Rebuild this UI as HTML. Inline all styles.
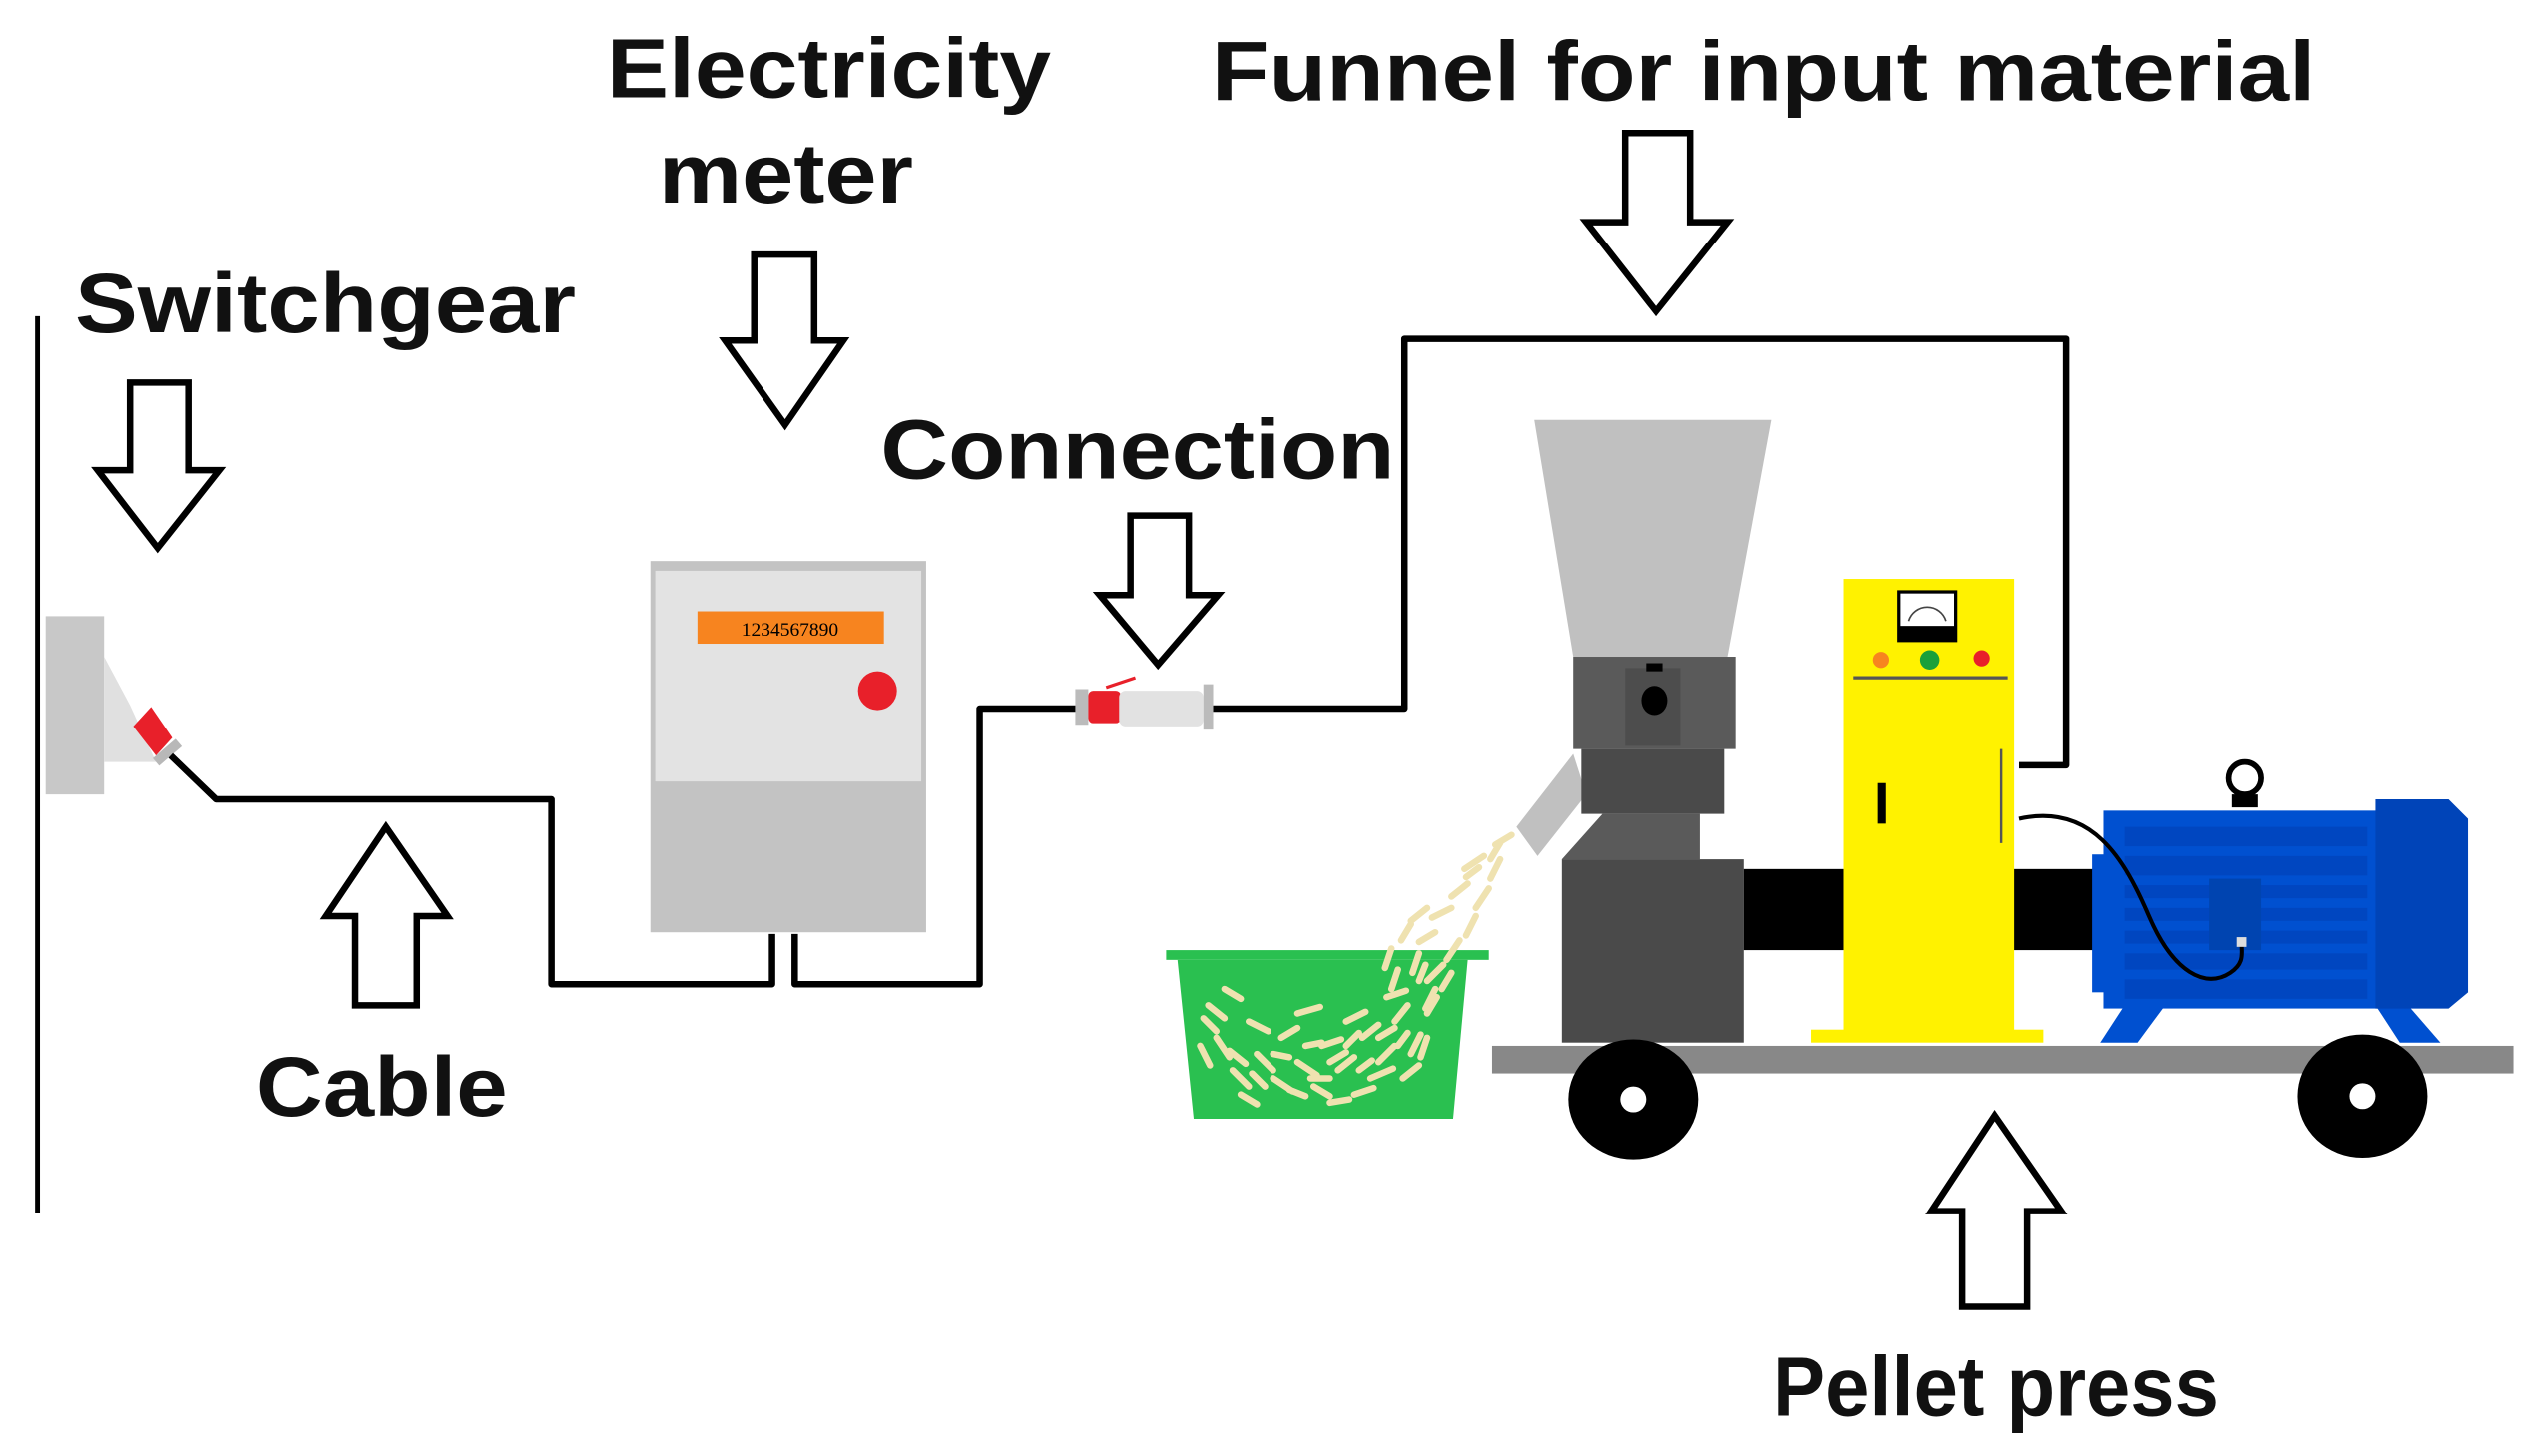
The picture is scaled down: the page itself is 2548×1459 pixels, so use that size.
<!DOCTYPE html>
<html><head><style>html,body{margin:0;padding:0;background:#fff}svg{display:block}</style></head>
<body>
<svg width="2548" height="1459" viewBox="0 0 1568 898" xmlns="http://www.w3.org/2000/svg" font-family="Liberation Sans, sans-serif" font-weight="bold">
<rect width="1568" height="898" fill="#fff"/>
<g font-size="52" fill="#111">
<text x="374" y="60" textLength="274" lengthAdjust="spacingAndGlyphs">Electricity</text>
<text x="406" y="125" textLength="157" lengthAdjust="spacingAndGlyphs">meter</text>
<text x="747" y="62" textLength="681" lengthAdjust="spacingAndGlyphs">Funnel for input material</text>
<text x="46" y="205" textLength="309" lengthAdjust="spacingAndGlyphs">Switchgear</text>
<text x="543" y="295" textLength="317" lengthAdjust="spacingAndGlyphs">Connection</text>
<text x="158" y="688" textLength="155" lengthAdjust="spacingAndGlyphs">Cable</text>
<text x="1093" y="873" textLength="275" lengthAdjust="spacingAndGlyphs">Pellet press</text>
</g>
<g fill="#fff" stroke="#000" stroke-width="4" stroke-linejoin="miter">
<path d="M80,236 H116 V290 H135 L97,338 L60,290 H80 Z"/>
<path d="M465,157 H502 V210 H520 L484,262 L447,210 H465 Z"/>
<path d="M697,318 H733 V367 H751 L714,410 L678,367 H697 Z"/>
<path d="M1002,82 H1042 V137 H1065 L1021,192 L978,137 H1002 Z"/>
<path d="M219,620 H257 V565 H276 L238,510 L201,565 H219 Z"/>
<path d="M1210,806 H1250 V747 H1271 L1230,688 L1191,747 H1210 Z"/>
</g>
<line x1="23" y1="195" x2="23" y2="748" stroke="#000" stroke-width="3"/>
<rect x="28" y="380" width="36" height="110" fill="#c8c8c8"/>
<polygon points="64,405 80,435 96,470 64,470" fill="#e0e0e0"/>
<polygon points="82,448 93,436 106,455 96,466" fill="#e8202a"/>
<line x1="96" y1="470" x2="110" y2="458" stroke="#b8b8b8" stroke-width="6"/>
<g fill="none" stroke="#000" stroke-width="4" stroke-linejoin="round">
<path d="M105,466 L133,493 H340 V607 H476 V576"/>
<path d="M490,576 V607 H604 V437 H665"/>
<path d="M748,437 H866 V209 H1274 V472 H1245"/>
</g>
<rect x="401" y="346" width="170" height="229" fill="#c3c3c3"/>
<rect x="404" y="352" width="164" height="130" fill="#e3e3e3"/>
<rect x="430" y="377" width="115" height="20" fill="#f7841f"/>
<text x="487" y="392" font-family="Liberation Serif, serif" font-size="12" text-anchor="middle" fill="#000" font-weight="normal">1234567890</text>
<circle cx="541" cy="426" r="12" fill="#e8202a"/>
<rect x="663" y="425" width="8" height="22" fill="#bbb"/>
<rect x="671" y="426" width="20" height="20" rx="3" fill="#e8202a"/>
<rect x="690" y="426" width="52" height="22" rx="4" fill="#e2e2e2"/>
<rect x="742" y="422" width="6" height="28" fill="#bbb"/>
<line x1="682" y1="424" x2="700" y2="418" stroke="#e8202a" stroke-width="2"/>
<rect x="719" y="586" width="199" height="6" fill="#2ac050"/>
<polygon points="726,592 905,592 896,690 736,690" fill="#2ac050"/>
<g stroke="#efe2b0" stroke-width="4" stroke-linecap="round">
<path d="M932,515 l-10,6 M915,528 l-12,8 M925,530 l-6,12 M905,545 l-10,8 M918,548 l-8,12 M895,560 l-12,6 M910,565 l-6,12 M885,575 l-10,6 M900,580 l-8,12 M875,588 l-4,12 M890,595 l-10,10 M862,598 l-4,12 M925,520 l-6,10 M880,560 l-10,8 M870,570 l-6,10 M858,585 l-4,12 M895,600 l-6,10 M912,535 l-8,6"/>
<path d="M745,620 l10,8 M750,640 l8,12 M760,660 l10,10 M770,630 l12,6 M775,650 l10,10 M785,665 l12,8 M790,640 l10,-6 M800,655 l12,8 M810,670 l10,6 M815,645 l12,-4 M825,660 l10,-8 M835,675 l12,-4 M840,640 l10,-8 M850,655 l10,-10 M860,630 l8,-10 M870,650 l6,-12 M880,625 l6,-10 M875,605 l4,-10 M885,610 l-6,12 M855,615 l12,-4 M830,630 l12,-6 M800,625 l14,-4 M765,675 l10,6 M820,680 l12,-2 M845,665 l14,-6 M865,665 l10,-8 M755,610 l10,6 M880,640 l-4,12 M740,645 l6,12 M742,628 l8,8 M758,648 l10,8 M795,672 l10,4 M805,645 l10,-2 M820,655 l10,-6 M830,645 l8,-8 M808,665 l12,0 M838,660 l8,-6 M850,640 l10,-6 M862,645 l6,-8 M772,662 l8,8 M785,650 l10,2"/>
</g>
<polygon points="946,259 1092,259 1065,405 970,405" fill="#c0c0c0"/>
<polygon points="935,510 970,465 978,490 948,528" fill="#c0c0c0"/>
<rect x="970" y="405" width="100" height="57" fill="#5a5a5a"/>
<rect x="1002" y="412" width="34" height="48" fill="#4d4d4d"/>
<ellipse cx="1020" cy="432" rx="8" ry="9" fill="#000"/>
<rect x="1015" y="409" width="10" height="5" fill="#000"/>
<rect x="975" y="462" width="88" height="40" fill="#4a4a4a"/>
<polygon points="988,502 1048,502 1048,530 1070,530 963,530" fill="#5a5a5a"/>
<rect x="963" y="530" width="112" height="113" fill="#4a4a4a"/>
<rect x="1075" y="536" width="62" height="50" fill="#000"/>
<rect x="1240" y="536" width="52" height="50" fill="#000"/>
<rect x="1117" y="635" width="143" height="8" fill="#fff200"/>
<rect x="1137" y="357" width="105" height="283" fill="#fff200"/>
<rect x="1170" y="364" width="37" height="32" fill="#000"/>
<rect x="1172" y="366" width="33" height="20" fill="#fff"/>
<path d="M1177,383 A12,12 0 0 1 1200,383" fill="none" stroke="#444" stroke-width="1"/>
<circle cx="1160" cy="407" r="5" fill="#f7841f"/>
<circle cx="1190" cy="407" r="6" fill="#1aa03a"/>
<circle cx="1222" cy="406" r="5" fill="#e8202a"/>
<line x1="1143" y1="418" x2="1238" y2="418" stroke="#555" stroke-width="2"/>
<rect x="1158" y="483" width="5" height="25" fill="#000"/>
<line x1="1234" y1="462" x2="1234" y2="520" stroke="#555" stroke-width="1.5"/>
<!-- motor -->
<polygon points="1310,620 1335,620 1318,643 1295,643" fill="#0050d0"/>
<polygon points="1465,620 1485,620 1505,643 1480,643" fill="#0050d0"/>
<rect x="1297" y="500" width="170" height="122" fill="#0050d0"/>
<rect x="1290" y="527" width="10" height="85" fill="#0050d0"/>
<polygon points="1465,493 1510,493 1522,505 1522,612 1510,622 1465,622" fill="#0044b8"/>
<g fill="#0046c0">
<rect x="1310" y="510" width="150" height="12"/><rect x="1310" y="528" width="150" height="12"/>
<rect x="1310" y="546" width="150" height="8"/><rect x="1310" y="560" width="150" height="8"/>
<rect x="1310" y="574" width="150" height="8"/><rect x="1310" y="588" width="150" height="10"/>
<rect x="1310" y="604" width="150" height="12"/>
</g>
<rect x="1362" y="542" width="32" height="44" fill="#0044b0"/>
<circle cx="1384" cy="480" r="10" fill="none" stroke="#000" stroke-width="3.5"/>
<rect x="1376" y="490" width="16" height="8" fill="#000"/>
<path d="M1245,505 C1290,495 1310,530 1325,565 C1340,600 1360,610 1375,600 C1384,594 1382,588 1382,582" fill="none" stroke="#000" stroke-width="2.5"/>
<rect x="1379" y="578" width="6" height="6" fill="#ddd"/>
<rect x="920" y="645" width="630" height="17" fill="#888"/>
<ellipse cx="1007" cy="678" rx="40" ry="37" fill="#000"/>
<circle cx="1007" cy="678" r="8" fill="#fff"/>
<ellipse cx="1457" cy="676" rx="40" ry="38" fill="#000"/>
<circle cx="1457" cy="676" r="8" fill="#fff"/>
</svg>
</body></html>
